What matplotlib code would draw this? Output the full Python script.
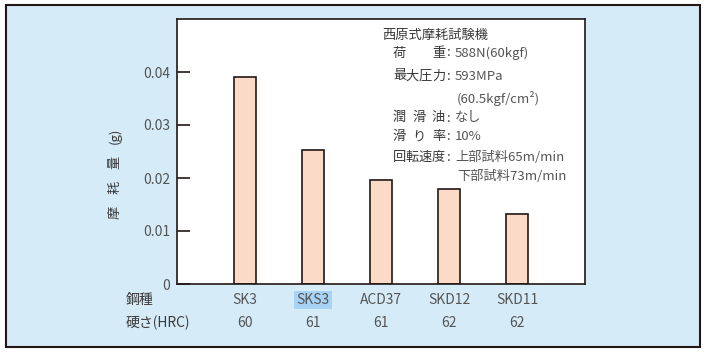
import matplotlib.pyplot as plt
import matplotlib.transforms as mtransforms
from matplotlib.patches import Rectangle

plt.rcParams['font.family'] = ['Noto Sans CJK JP', 'DejaVu Sans']

# data
steels = ['SK3', 'SKS3', 'ACD37', 'SKD12', 'SKD11']
hardness = ['60', '61', '61', '62', '62']
wear = [0.0390, 0.0253, 0.0196, 0.0179, 0.0132]
yticks = [0, 0.01, 0.02, 0.03, 0.04]
ytick_labels = ['0', '0.01', '0.02', '0.03', '0.04']

W, H = 706, 355
BG = '#d5ebf8'
BAR = '#fbdac7'
EDGE = '#231815'
TXT = '#3a3a3a'
GREY = '#555555'


def fx(px):
    return px / W


def fy(py):
    return 1 - py / H


fig = plt.figure(figsize=(W / 100, H / 100), dpi=100)
fig.patch.set_facecolor('white')

# light blue panel with frame
fig.add_artist(Rectangle((fx(6), fy(347)), fx(700) - fx(6), fy(5) - fy(347),
                         transform=fig.transFigure, facecolor=BG,
                         edgecolor=EDGE, lw=1.5, zorder=-1))

ax = fig.add_axes([fx(177), fy(284), fx(585) - fx(177), fy(19) - fy(284)])
ax.set_facecolor('white')

x = list(range(len(steels)))
ax.bar(x, wear, width=0.31, color=BAR, edgecolor=EDGE, linewidth=1.2, zorder=2)

ax.set_xlim(-1, len(steels))
ax.set_ylim(0, 0.05)
ax.set_yticks(yticks, ytick_labels)
ax.set_xticks([])
ax.tick_params(axis='y', direction='in', length=9, width=1.2, color=EDGE,
               labelsize=10, labelcolor=GREY, pad=5)
for s in ax.spines.values():
    s.set_linewidth(1.2)
    s.set_color(EDGE)

# y label, spread out vertically
for py, part in [(212, '摩'), (187, '耗'), (162, '量'), (136, '(g)')]:
    fig.text(fx(115), fy(py), part, rotation=90, ha='center', va='center',
             fontsize=9.5, color=TXT)

# rows under the axis
trans = mtransforms.blended_transform_factory(ax.transData, fig.transFigure)
for i, (s, h) in enumerate(zip(steels, hardness)):
    kw = {}
    if s == 'SKS3':
        kw['bbox'] = dict(boxstyle='square,pad=0.15', fc='#a9d3f5', ec='none')
    ax.text(i, fy(300), s, transform=trans, ha='center', va='center',
            fontsize=10, color=GREY, **kw)
    ax.text(i, fy(323), h, transform=trans, ha='center', va='center',
            fontsize=10, color=GREY)
fig.text(fx(126), fy(300), '鋼種', ha='left', va='center', fontsize=10, color=TXT)
fig.text(fx(126), fy(323), '硬さ(HRC)', ha='left', va='center', fontsize=10, color=TXT)

# test conditions box
fs = 9.5
fig.text(fx(382), fy(35), '西原式摩耗試験機', ha='left', va='center', fontsize=fs, color=TXT)

rows = [
    (53, '荷重', '588N(60kgf)'),
    (76, '最大圧力', '593MPa'),
    (98, '', '(60.5kgf/cm²)'),
    (118, '潤滑油', 'なし'),
    (137, '滑り率', '10%'),
    (157, '回転速度', '上部試料65m/min'),
    (176, '', '下部試料73m/min'),
]
c0, c1 = 399.5, 438.5
for py, label, value in rows:
    n = len(label)
    for k, ch in enumerate(label):
        cx = c0 + (c1 - c0) * k / (n - 1)
        fig.text(fx(cx), fy(py), ch, ha='center', va='center', fontsize=fs, color=TXT)
    if label:
        fig.text(fx(449), fy(py), ':', ha='center', va='center', fontsize=fs, color=TXT)
        fig.text(fx(455), fy(py), value, ha='left', va='center', fontsize=fs, color=GREY)
    else:
        fig.text(fx(457), fy(py), value, ha='left', va='center', fontsize=fs, color=GREY)

fig.savefig('out.png', dpi=100)
